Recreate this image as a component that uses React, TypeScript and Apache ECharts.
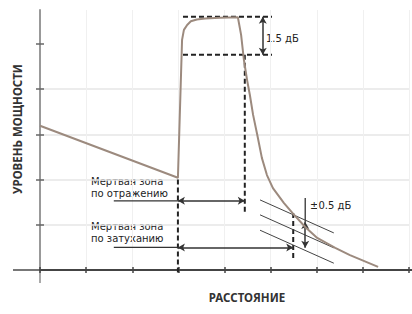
import React, { useEffect, useRef } from 'react';
import * as echarts from 'echarts';

// OTDR trace (distance in tick units, level in tick units)
const traceDistance = [0, 2.99, 3.08, 3.12, 3.19, 3.27, 3.40, 3.58, 3.90, 4.29, 4.36, 4.42, 4.49, 4.55, 4.62, 4.71, 4.81, 4.92, 5.05, 5.29, 5.49, 5.75, 6.01, 6.40, 6.72, 7.33];
const traceLevel = [3.19, 2.04, 5.09, 5.31, 5.42, 5.50, 5.54, 5.56, 5.58, 5.59, 5.20, 4.65, 4.20, 3.87, 3.43, 2.99, 2.48, 2.10, 1.81, 1.48, 1.24, 0.95, 0.71, 0.49, 0.33, 0.07];

// axis ticks
const xTicks = [0, 1, 2, 3, 4, 5, 6, 7, 8];
const yTicks = [1, 2, 3, 4, 5];

// dashed guide segments [x1, y1, x2, y2]
const dashedSegments = [
  [3.10, 5.60, 5.03, 5.60],
  [3.10, 4.76, 5.03, 4.76],
  [4.44, 4.76, 4.44, 1.24],
  [2.99, 2.00, 2.99, -0.1],
  [5.49, 1.26, 5.49, 0.22],
];

// plain thin segments [x1, y1, x2, y2]
const plainSegments = [
  [1.60, 1.53, 2.99, 1.53],
  [1.60, 0.50, 2.99, 0.50],
  [5.75, 1.06, 5.75, 1.59],
];

// ±0.5 dB tolerance lines
const toleranceSegments = [
  [4.77, 1.55, 6.37, 0.82],
  [4.77, 1.22, 6.37, 0.49],
  [4.77, 0.88, 6.37, 0.15],
];

// double-headed arrows [x1, y1, x2, y2]
const arrowSegments = [
  [4.83, 5.60, 4.83, 4.76],
  [2.99, 1.53, 4.44, 1.53],
  [2.99, 0.50, 5.49, 0.50],
  [5.75, 1.06, 5.75, 0.49],
];

const labels = {
  yName: 'УРОВЕНЬ МОЩНОСТИ',
  xName: 'РАССТОЯНИЕ',
  db15: '1.5 дБ',
  db05: '±0.5 дБ',
  refl1: 'Мертвая зона',
  refl2: 'по отражению',
  att1: 'Мертвая зона',
  att2: 'по затуханию',
};

const FONT = '"Noto Sans", "DejaVu Sans", sans-serif';
const NOTE_FONT = '"DejaVu Sans", sans-serif';

export default function App() {
  const ref = useRef<HTMLDivElement>(null);

  useEffect(() => {
    if (!ref.current) return;
    const chart = echarts.init(ref.current, null, { renderer: 'svg' });

    const segSeries = (segs: number[][], style: any) =>
      segs.map((s) => ({
        type: 'line',
        data: [[s[0], s[1]], [s[2], s[3]]],
        showSymbol: false,
        symbol: 'none',
        silent: true,
        clip: false,
        lineStyle: style,
        z: 3,
      }));

    const note = (text: string, x: number, y: number) => ({
      type: 'text', x, y,
      style: { text, fill: '#222', font: `10px ${NOTE_FONT}`, textAlign: 'left', textVerticalAlign: 'middle' },
    });

    const option: any = {
      animation: false,
      grid: { left: 40, right: 3, top: 10, bottom: 44 },
      xAxis: [
        {
          type: 'value',
          min: 0,
          max: 8,
          interval: 1,
          position: 'bottom',
          axisLine: { show: true, onZero: false, lineStyle: { color: '#444', width: 2 } },
          axisTick: { show: true, length: 3, lineStyle: { color: '#444', width: 1.5 } },
          axisLabel: { show: false },
          splitLine: { show: true, lineStyle: { color: '#f0f0f0', width: 1 } },
        },
        {
          type: 'value',
          min: 0,
          max: 8,
          interval: 1,
          position: 'bottom',
          axisLine: { show: false },
          axisTick: { show: true, inside: true, length: 3, lineStyle: { color: '#444', width: 1.5 } },
          axisLabel: { show: false },
          splitLine: { show: false },
        },
      ],
      yAxis: [
        {
          type: 'value',
          min: 0,
          max: 5.75,
          interval: 1,
          position: 'left',
          axisLine: { show: true, onZero: false, lineStyle: { color: '#999', width: 2 } },
          axisTick: { show: true, length: 4, customValues: yTicks, lineStyle: { color: '#666', width: 1.5 } },
          axisLabel: { show: false },
          splitLine: { show: true, showMaxLine: false, lineStyle: { color: '#e6e6e6', width: 1.5 } },
        },
        {
          type: 'value',
          min: 0,
          max: 5.75,
          interval: 1,
          position: 'left',
          axisLine: { show: false },
          axisTick: { show: true, inside: true, length: 4, customValues: yTicks, lineStyle: { color: '#666', width: 1.5 } },
          axisLabel: { show: false },
          splitLine: { show: false },
        },
      ],
      series: [
        {
          type: 'line',
          data: traceDistance.map((d, i) => [d, traceLevel[i]]),
          showSymbol: false,
          symbol: 'none',
          silent: true,
          lineStyle: { color: '#9c8a7e', width: 2 },
          z: 5,
        },
        ...segSeries(dashedSegments, { color: '#222', width: 2, type: [5, 3] }),
        ...segSeries(plainSegments, { color: '#333', width: 1.3 }),
        ...segSeries(toleranceSegments, { color: '#444', width: 1 }),
        {
          type: 'line',
          data: [],
          silent: true,
          markLine: {
            silent: true,
            animation: false,
            symbol: ['arrow', 'arrow'],
            symbolSize: [6, 7],
            label: { show: false },
            lineStyle: { color: '#333', width: 1.5, type: 'solid' },
            data: arrowSegments.map((s) => [
              { coord: [s[0], s[1]] },
              { coord: [s[2], s[3]] },
            ]),
          },
        },
      ],
      graphic: [
        { type: 'line', shape: { x1: 13, y1: 270, x2: 40, y2: 270 }, style: { stroke: '#777', lineWidth: 2 } },
        { type: 'line', shape: { x1: 409, y1: 270, x2: 412, y2: 270 }, style: { stroke: '#444', lineWidth: 2 } },
        { type: 'line', shape: { x1: 40, y1: 270, x2: 40, y2: 283 }, style: { stroke: '#aaa', lineWidth: 2 } },
        {
          type: 'text', x: 17, y: 129, rotation: Math.PI / 2,
          style: { text: labels.yName, fill: '#333', font: `bold 11.5px ${FONT}`, textAlign: 'center', textVerticalAlign: 'middle' },
        },
        {
          type: 'text', x: 247, y: 297,
          style: { text: labels.xName, fill: '#333', font: `bold 11.5px ${FONT}`, textAlign: 'center', textVerticalAlign: 'middle' },
        },
        note(labels.db15, 266, 38),
        note(labels.db05, 310, 205),
        note(labels.refl1, 91, 181.5),
        note(labels.refl2, 91, 193.5),
        note(labels.att1, 91, 226.5),
        note(labels.att2, 91, 238.5),
      ],
    };

    chart.setOption(option);
    return () => chart.dispose();
  }, []);

  return (
    <div
      ref={ref}
      style={{ position: 'fixed', left: 0, top: 0, width: 412, height: 314, background: '#fff' }}
    />
  );
}
